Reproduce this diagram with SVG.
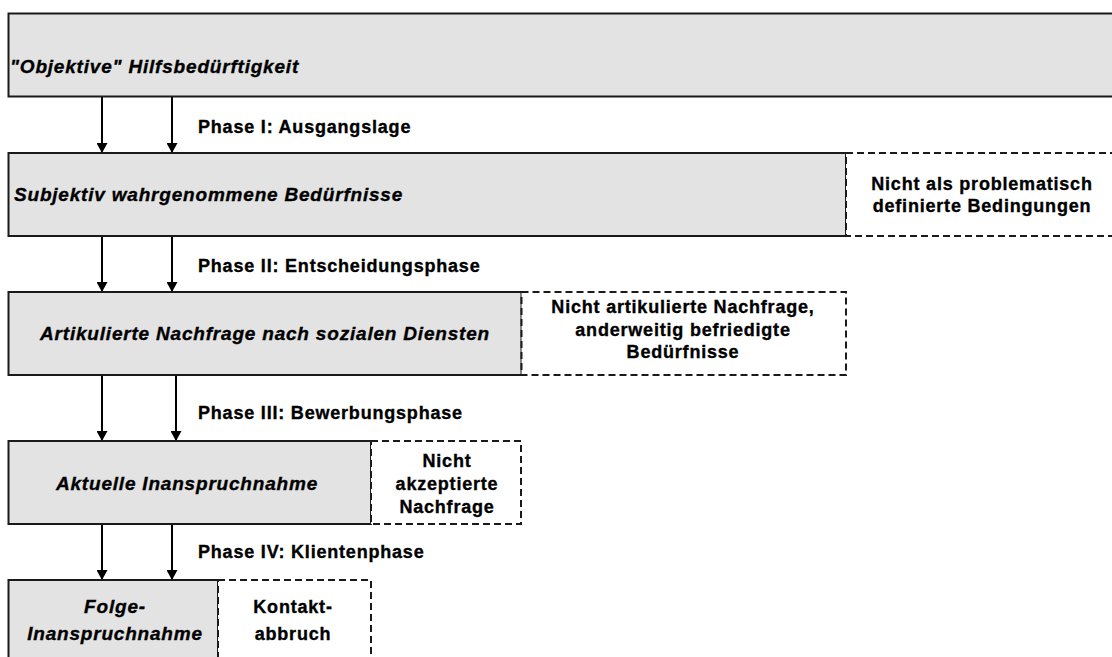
<svg xmlns="http://www.w3.org/2000/svg" width="1112" height="657" viewBox="0 0 1112 657">
<style>
.box{fill:#e3e3e3;stroke:#1a1a1a;stroke-width:2}
.dash{fill:#ffffff;stroke:#1a1a1a;stroke-width:2;stroke-dasharray:7 4}
.it{font-family:"Liberation Sans",Arial,sans-serif;font-weight:bold;font-style:italic;font-size:19px;letter-spacing:0.8px;fill:#000;stroke:#000;stroke-width:0.35}
.bd{font-family:"Liberation Sans",Arial,sans-serif;font-weight:bold;font-size:18px;letter-spacing:0.8px;fill:#000;stroke:#000;stroke-width:0.35}
.c{text-anchor:middle}
.ln{stroke:#000;stroke-width:2;fill:none}
</style>
<defs>
<marker id="ah" markerWidth="11" markerHeight="11" refX="10" refY="5.5" orient="auto" markerUnits="userSpaceOnUse">
<path d="M0,0 L10,5.5 L0,11 Z" fill="#000"/>
</marker>
</defs>
<rect width="1112" height="657" fill="#ffffff"/>
<g id="connectors">
<line class="ln" x1="102" y1="97" x2="102" y2="153" marker-end="url(#ah)"/>
<line class="ln" x1="172" y1="97" x2="172" y2="153" marker-end="url(#ah)"/>
<line class="ln" x1="102" y1="236" x2="102" y2="292" marker-end="url(#ah)"/>
<line class="ln" x1="172" y1="236" x2="172" y2="292" marker-end="url(#ah)"/>
<line class="ln" x1="102" y1="375" x2="102" y2="441" marker-end="url(#ah)"/>
<line class="ln" x1="176" y1="375" x2="176" y2="441" marker-end="url(#ah)"/>
<line class="ln" x1="102" y1="524" x2="102" y2="580" marker-end="url(#ah)"/>
<line class="ln" x1="172" y1="524" x2="172" y2="580" marker-end="url(#ah)"/>
<text class="bd" x="198" y="133">Phase I: Ausgangslage</text>
<text class="bd" x="198" y="272">Phase II: Entscheidungsphase</text>
<text class="bd" x="198" y="419">Phase III: Bewerbungsphase</text>
<text class="bd" x="198" y="558">Phase IV: Klientenphase</text>
</g>
<g id="n1">
<rect class="box" x="8.5" y="13.5" width="1115" height="83"/>
<text class="it" x="10" y="73">"Objektive" Hilfsbedürftigkeit</text>
</g>
<g id="n2">
<rect class="box" x="8.5" y="153" width="837.5" height="83"/>
<text class="it" x="14" y="201">Subjektiv wahrgenommene Bedürfnisse</text>
</g>
<g id="n2b">
<rect class="dash" x="846" y="153" width="280" height="83"/>
<text class="bd c" x="982" y="190">Nicht als problematisch</text>
<text class="bd c" x="982" y="212">definierte Bedingungen</text>
</g>
<g id="n3">
<rect class="box" x="8.5" y="292" width="513" height="83"/>
<text class="it c" x="265" y="340">Artikulierte Nachfrage nach sozialen Diensten</text>
</g>
<g id="n3b">
<rect class="dash" x="521.5" y="292" width="324.5" height="83"/>
<text class="bd c" x="683" y="313">Nicht artikulierte Nachfrage,</text>
<text class="bd c" x="683" y="336">anderweitig befriedigte</text>
<text class="bd c" x="683" y="358">Bedürfnisse</text>
</g>
<g id="n4">
<rect class="box" x="8.5" y="441" width="362.5" height="83"/>
<text class="it c" x="187" y="490">Aktuelle Inanspruchnahme</text>
</g>
<g id="n4b">
<rect class="dash" x="371" y="441" width="150" height="83"/>
<text class="bd c" x="447" y="467">Nicht</text>
<text class="bd c" x="447" y="490">akzeptierte</text>
<text class="bd c" x="447" y="513">Nachfrage</text>
</g>
<g id="n5">
<rect class="box" x="8.5" y="580" width="209.5" height="90"/>
<text class="it c" x="115" y="613">Folge-</text>
<text class="it c" x="115" y="640">Inanspruchnahme</text>
</g>
<g id="n5b">
<rect class="dash" x="218" y="580" width="153" height="90"/>
<text class="bd c" x="293" y="613">Kontakt-</text>
<text class="bd c" x="293" y="640">abbruch</text>
</g>
</svg>
